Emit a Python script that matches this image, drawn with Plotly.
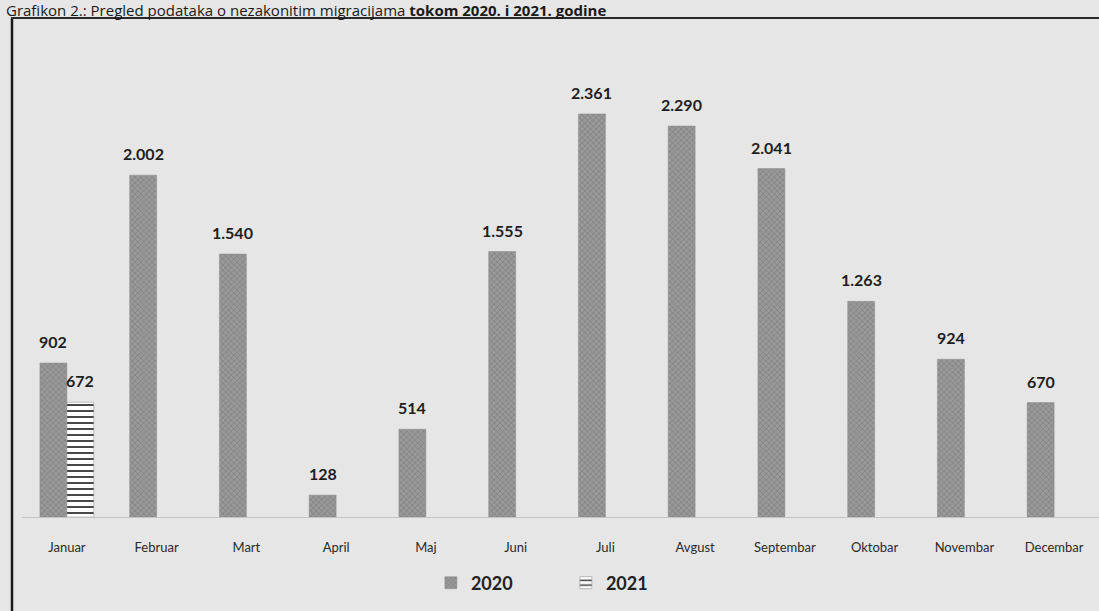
import plotly.graph_objects as go

months = ["Januar", "Februar", "Mart", "April", "Maj", "Juni", "Juli",
          "Avgust", "Septembar", "Oktobar", "Novembar", "Decembar"]
values_2020 = [902, 2002, 1540, 128, 514, 1555, 2361, 2290, 2041, 1263, 924, 670]
values_2021 = [672, None, None, None, None, None, None, None, None, None, None, None]
title_text = "Grafikon 2.: Pregled podataka o nezakonitim migracijama <b>tokom 2020. i 2021. godine</b>"

W, H = 1099, 611
ML, MR, MT, MB = 22, 0, 30, 94
PW, PH = W - ML - MR, H - MT - MB
BARGAP = 0.4

def px_x(p):
    return (p - ML) / PW

def px_y(p):
    return (H - MB - p) / PH

def fmt(v):
    return f"{v:,}".replace(",", ".")

label_font = dict(family="Lato, Open Sans, sans-serif", size=16, color="#1e1e1e", weight="bold")

fig = go.Figure()
fig.add_trace(go.Bar(
    name="2020", x=months, y=values_2020,
    marker=dict(color="#8e8e8e",
                line=dict(color="#8a8a8a", width=0.5),
                pattern=dict(shape="x", fgcolor="#7c7c7c", bgcolor="#999999",
                             size=4, solidity=0.3, fillmode="replace")),
))
fig.add_trace(go.Bar(
    name="2021", x=months, y=values_2021,
    marker=dict(color="#ffffff",
                line=dict(color="#9a9a9a", width=0.6),
                pattern=dict(shape="-", fgcolor="#333333", bgcolor="#ffffff",
                             size=6, solidity=0.3, fillmode="replace")),
))

# value labels placed through the axes' own scales, shifted to each bar of the group
cat_px = PW / len(months)
bar_px = cat_px * (1 - BARGAP) / 2
annotations = []
for series, sign in ((values_2020, -1), (values_2021, 1)):
    for m, v in zip(months, series):
        if v is None:
            continue
        annotations.append(dict(
            x=m, y=v, xref="x", yref="y", text=fmt(v), showarrow=False,
            xanchor="center", yanchor="bottom", xshift=sign * bar_px / 2, yshift=10,
            font=label_font))

annotations.append(dict(
    text=title_text, xref="paper", yref="paper", x=px_x(4), xanchor="left",
    y=px_y(10), yanchor="middle", showarrow=False,
    font=dict(size=15, color="#1a1a1a", family="Open Sans, sans-serif")))

fig.update_layout(
    width=W, height=H,
    margin=dict(l=ML, r=MR, t=MT, b=MB, pad=0),
    paper_bgcolor="#e6e6e6", plot_bgcolor="#e6e6e6",
    barmode="group", bargap=BARGAP, bargroupgap=0,
    separators=",.",
    font=dict(family="Lato, Open Sans, sans-serif", color="#333333"),
    showlegend=True,
    legend=dict(orientation="h", x=0.505, xanchor="center", y=px_y(583), yanchor="middle",
                font=dict(size=18, color="#222222", weight="bold"), itemwidth=30,
                entrywidth=90, bgcolor="rgba(0,0,0,0)"),
    xaxis=dict(showgrid=False, showline=True, linecolor="#c4c4c4", linewidth=1,
               ticks="outside", ticklen=18, tickcolor="rgba(0,0,0,0)",
               tickfont=dict(size=13, color="#2a2a2a"), zeroline=False),
    yaxis=dict(range=[0, PH / (154 / 902)], visible=False, showgrid=False, zeroline=False),
    shapes=[
        dict(type="line", xref="paper", yref="paper",
             x0=px_x(12), x1=px_x(12), y0=px_y(18), y1=px_y(615),
             line=dict(color="#1a1a1a", width=2.5)),
        dict(type="line", xref="paper", yref="paper",
             x0=px_x(11), x1=px_x(1100), y0=px_y(18), y1=px_y(18),
             line=dict(color="#2a2a2a", width=2)),
    ],
    annotations=annotations,
)

fig.write_html("out.html", config={"displayModeBar": False},
               post_script="document.body.style.margin='0';")
